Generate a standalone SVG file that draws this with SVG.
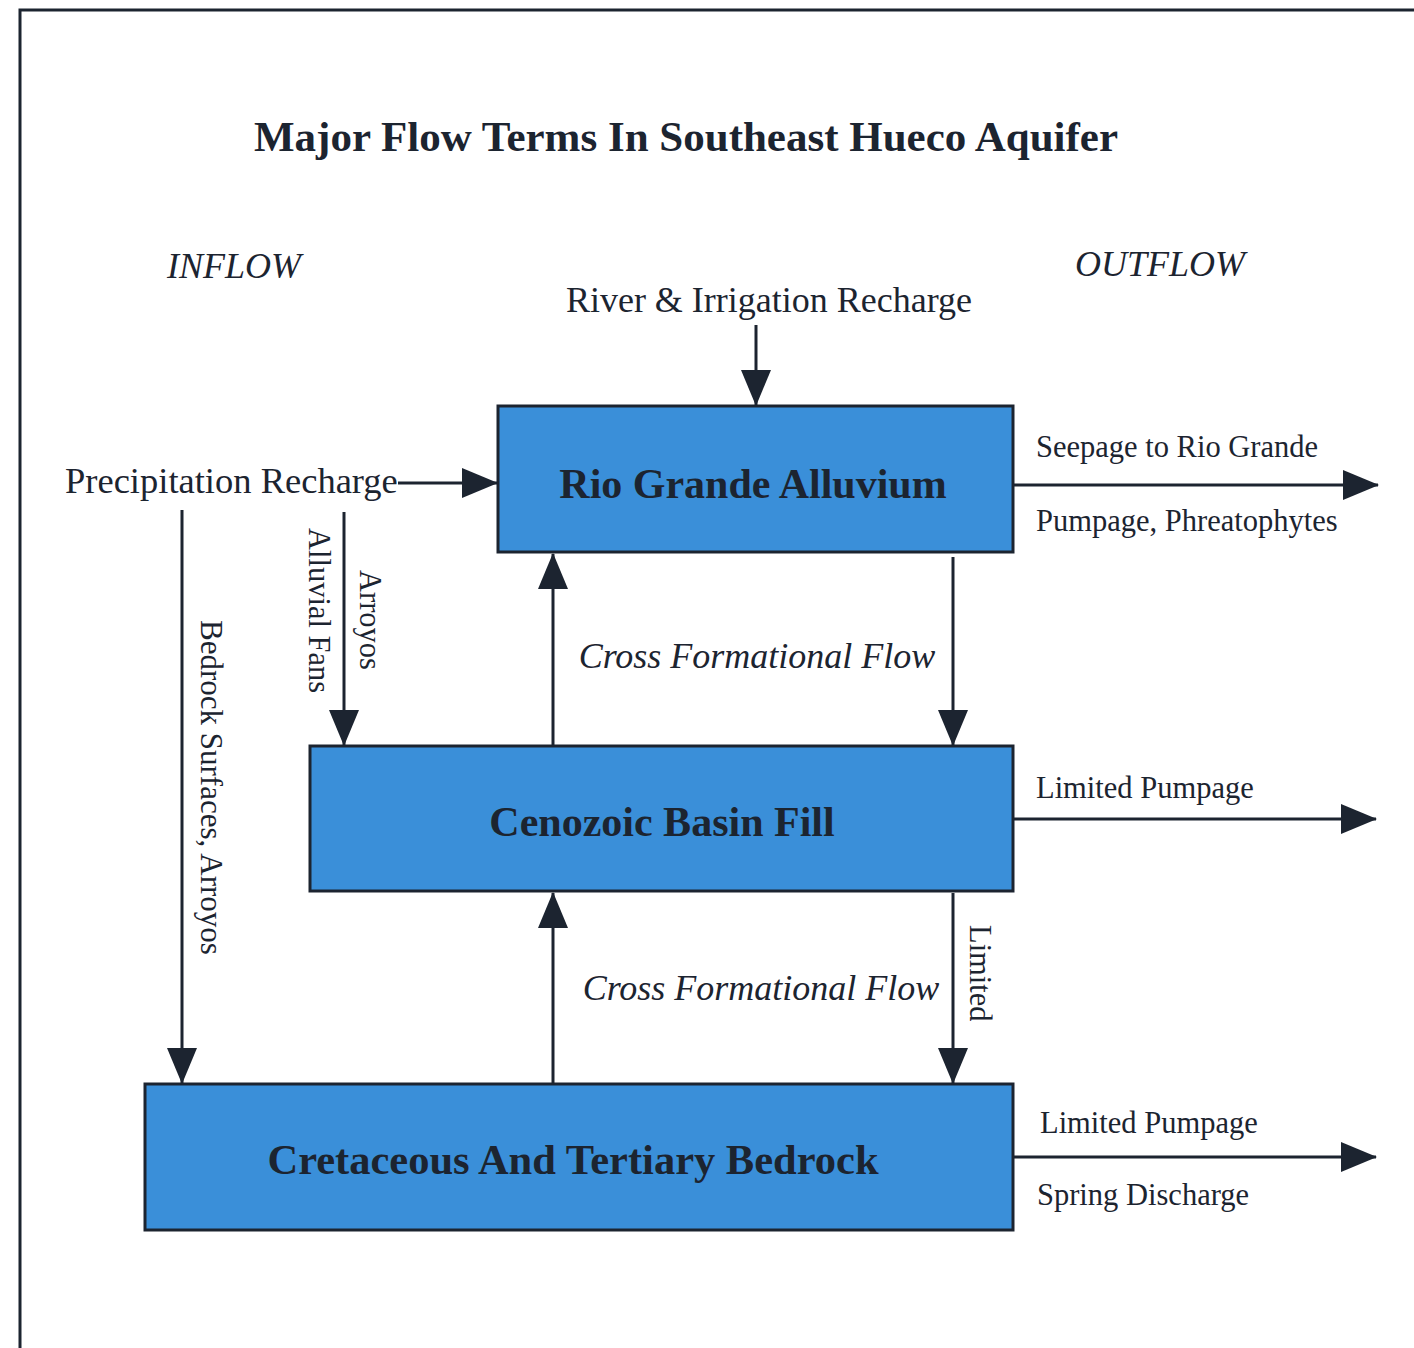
<svg xmlns="http://www.w3.org/2000/svg" width="1414" height="1348" viewBox="0 0 1414 1348">
<style>
.t{font-family:"Liberation Serif","Times New Roman",serif;fill:#1c2430}
.b{font-weight:bold}
.i{font-style:italic}
.box{fill:#3a8fd9;stroke:#1c2430;stroke-width:3}
.c{stroke:#1c2430;stroke-width:3;fill:none;marker-end:url(#ah)}
</style>
<defs>
<marker id="ah" markerUnits="userSpaceOnUse" markerWidth="36" markerHeight="30" refX="35" refY="15" orient="auto" viewBox="0 0 36 30">
<path d="M0,0 L36,15 L0,30 Z" fill="#1c2430"/>
</marker>
</defs>
<rect width="1414" height="1348" fill="#ffffff"/>
<path d="M20,1348 V10 H1414" fill="none" stroke="#1c2430" stroke-width="3"/>
<text class="t b" x="686" y="151" font-size="43" text-anchor="middle">Major Flow Terms In Southeast Hueco Aquifer</text>
<text class="t i" x="234" y="278" font-size="36" text-anchor="middle">INFLOW</text>
<text class="t i" x="1160" y="276" font-size="36" text-anchor="middle">OUTFLOW</text>
<text class="t" x="769" y="312" font-size="36" text-anchor="middle">River &amp; Irrigation Recharge</text>
<text class="t" x="65" y="493" font-size="36.5">Precipitation Recharge</text>
<text class="t" x="1036" y="457" font-size="30.5">Seepage to Rio Grande</text>
<text class="t" x="1036" y="531" font-size="30.5">Pumpage, Phreatophytes</text>
<text class="t" x="1036" y="798" font-size="30.5">Limited Pumpage</text>
<text class="t" x="1040" y="1133" font-size="30.5">Limited Pumpage</text>
<text class="t" x="1037" y="1205" font-size="30.5">Spring Discharge</text>
<text class="t i" x="757" y="668" font-size="36" text-anchor="middle">Cross Formational Flow</text>
<text class="t i" x="761" y="1000" font-size="36" text-anchor="middle">Cross Formational Flow</text>
<text class="t" font-size="30.5" transform="translate(360,570) rotate(90)">Arroyos</text>
<text class="t" font-size="30.5" transform="translate(309,528) rotate(90)">Alluvial Fans</text>
<text class="t" font-size="31" transform="translate(201,620) rotate(90)">Bedrock Surfaces, Arroyos</text>
<text class="t" font-size="30.5" transform="translate(970,925) rotate(90)">Limited</text>
<g id="rio-grande-alluvium">
<rect class="box" x="498" y="406" width="515" height="146"/>
<text class="t b" x="753" y="498" font-size="42" text-anchor="middle">Rio Grande Alluvium</text>
</g>
<g id="cenozoic-basin-fill">
<rect class="box" x="310" y="746" width="703" height="145"/>
<text class="t b" x="662" y="836" font-size="42" text-anchor="middle">Cenozoic Basin Fill</text>
</g>
<g id="cretaceous-tertiary-bedrock">
<rect class="box" x="145" y="1084" width="868" height="146"/>
<text class="t b" x="573" y="1174" font-size="42.5" text-anchor="middle">Cretaceous And Tertiary Bedrock</text>
</g>
<g id="connectors">
<path class="c" d="M756,325 V405"/>
<path class="c" d="M398,483 H497"/>
<path class="c" d="M1013,485 H1378"/>
<path class="c" d="M1013,819 H1376"/>
<path class="c" d="M1013,1157 H1376"/>
<path class="c" d="M344,512 V745"/>
<path class="c" d="M182,510 V1083"/>
<path class="c" d="M553,745 V554"/>
<path class="c" d="M953,557 V745"/>
<path class="c" d="M553,1083 V893"/>
<path class="c" d="M953,893 V1083"/>
</g>
</svg>
